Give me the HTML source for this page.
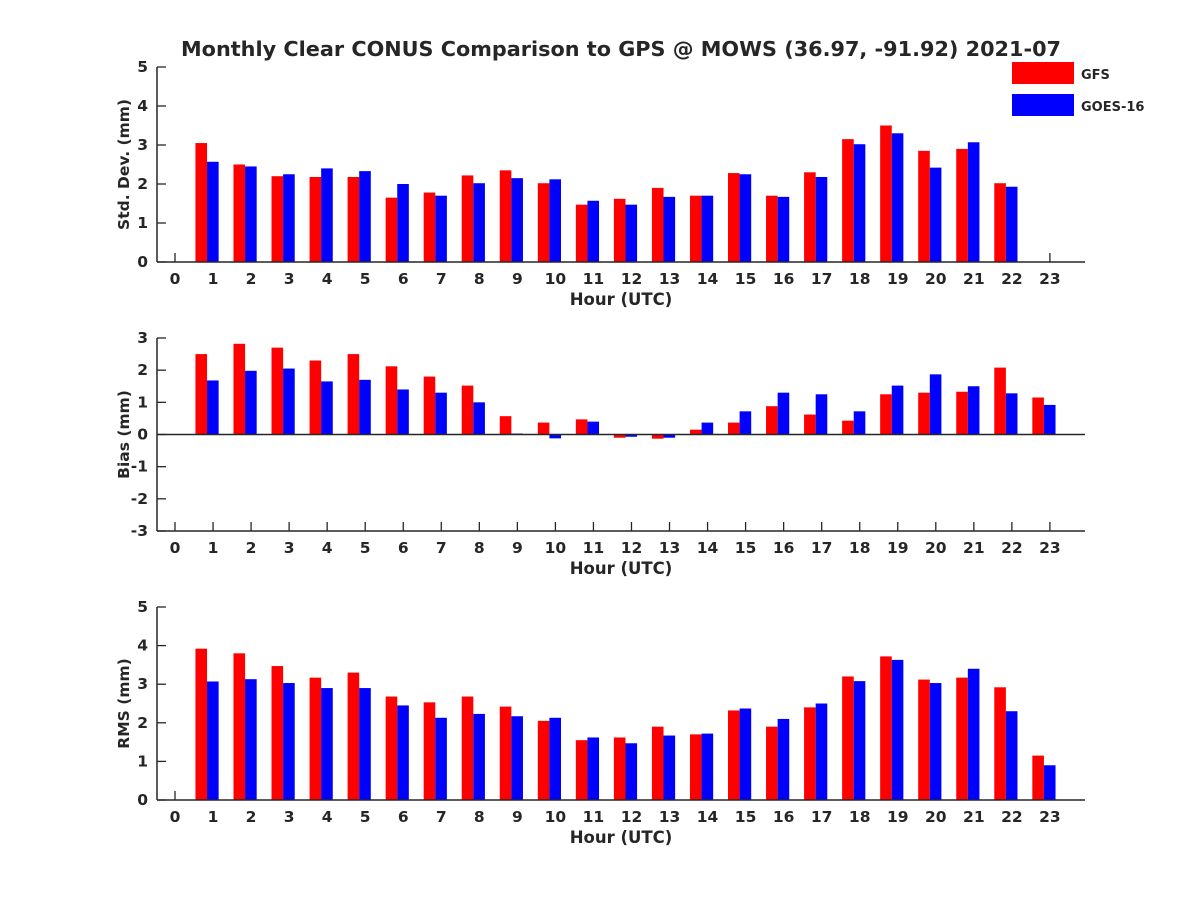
<!DOCTYPE html>
<html><head><meta charset="utf-8"><style>
body{margin:0;background:#fff}
svg text{font-family:"DejaVu Sans","Liberation Sans",sans-serif;font-weight:bold;fill:#262626}
</style></head><body>
<svg id="chart" width="1200" height="900" xmlns="http://www.w3.org/2000/svg">
<rect width="1200" height="900" fill="#fff"/>
<text x="621" y="56" text-anchor="middle" font-size="20" textLength="880" lengthAdjust="spacingAndGlyphs">Monthly Clear CONUS Comparison to GPS @ MOWS (36.97, -91.92) 2021-07</text>
<g>
<rect x="1012" y="62" width="62" height="22" fill="#ff0000"/>
<text x="1081" y="79" font-size="13">GFS</text>
<rect x="1012" y="94" width="62" height="22" fill="#0000ff"/>
<text x="1081" y="111" font-size="13">GOES-16</text>
</g>
</svg>
<script>
const hours=[...Array(24).keys()];
const stdGFS=[null,3.05,2.5,2.2,2.18,2.18,1.65,1.78,2.22,2.35,2.02,1.47,1.62,1.9,1.7,2.28,1.7,2.3,3.15,3.5,2.85,2.9,2.02,null];
const stdGOES=[null,2.57,2.45,2.25,2.4,2.33,2.0,1.7,2.02,2.15,2.12,1.57,1.47,1.67,1.7,2.25,1.67,2.18,3.02,3.3,2.42,3.07,1.93,null];
const biasGFS=[null,2.5,2.82,2.7,2.3,2.5,2.12,1.8,1.52,0.57,0.37,0.47,-0.1,-0.13,0.15,0.37,0.88,0.62,0.43,1.25,1.3,1.33,2.08,1.15];
const biasGOES=[null,1.68,1.98,2.05,1.65,1.7,1.4,1.3,1.0,0.03,-0.12,0.4,-0.07,-0.1,0.37,0.72,1.3,1.25,0.72,1.52,1.87,1.5,1.28,0.92];
const rmsGFS=[null,3.92,3.8,3.47,3.17,3.3,2.68,2.53,2.68,2.42,2.05,1.55,1.62,1.9,1.7,2.32,1.9,2.4,3.2,3.72,3.12,3.17,2.92,1.15];
const rmsGOES=[null,3.07,3.13,3.03,2.9,2.9,2.45,2.13,2.23,2.17,2.13,1.62,1.47,1.67,1.72,2.37,2.1,2.5,3.08,3.63,3.03,3.4,2.3,0.9];
const stdTicks=[0,1,2,3,4,5];
const biasTicks=[-3,-2,-1,0,1,2,3];
const rmsTicks=[0,1,2,3,4,5];
const NS='http://www.w3.org/2000/svg';
const svg=document.getElementById('chart');
function mk(tag,attrs,parent){const e=document.createElementNS(NS,tag);for(const k in attrs)e.setAttribute(k,attrs[k]);(parent||svg).appendChild(e);return e;}
const xL=157,xR=1085;
const xS=h=>175+h*38.04;
function panel(name,top,bottom,ymin,ymax,ticks,ylabel,g1,g2){
  const g=mk('g',{});
  
  
  const yS=v=>bottom-(v-ymin)/(ymax-ymin)*(bottom-top);
  const zero=yS(Math.max(0,ymin));
  const bw=11.6;
  const ax=mk('g',{stroke:'#262626','stroke-width':1.3,fill:'none'},g);
  
  
  hours.forEach(h=>{
    mk('line',{x1:xS(h),y1:bottom,x2:xS(h),y2:bottom-9},ax);
    const t=mk('text',{x:xS(h),y:bottom+22,'text-anchor':'middle','font-size':15.5},g);
    t.textContent=h;
    
    
  });
  ticks.forEach(v=>{
    mk('line',{x1:xL,y1:yS(v),x2:xL+9,y2:yS(v)},ax);
    const t=mk('text',{x:xL-9,y:yS(v)+5,'text-anchor':'end','font-size':15.5},g);
    t.textContent=v;
    
    
  });
  [[g1,'#ff0000',-6-bw,'gfs'],[g2,'#0000ff',-6,'goes']].forEach(([arr,col,off,s])=>{
    arr.forEach((v,h)=>{if(v===null)return;
      const y1=yS(v);
      const r=mk('rect',{x:xS(h)+off,y:Math.min(y1,zero),width:bw,height:Math.abs(zero-y1),fill:col},g);
      
      
    });
  });
  const ax2=mk('g',{stroke:'#262626','stroke-width':1.5,fill:'none'},g);
  
  
  mk('line',{x1:xL,y1:top,x2:xL,y2:bottom},ax2);
  mk('line',{x1:xL,y1:bottom,x2:xR,y2:bottom},ax2);
  if(ymin<0) mk('line',{x1:xL,y1:zero,x2:xR,y2:zero},ax2);
  const xt=mk('text',{x:621,y:bottom+43,'text-anchor':'middle','font-size':16.5},g);
  xt.textContent='Hour (UTC)';
  
  
  const cy=(top+bottom)/2;
  const yt=mk('text',{x:0,y:0,'text-anchor':'middle','font-size':15.5,transform:`translate(129,${cy}) rotate(-90)`},g);
  yt.textContent=ylabel;
  
  
}
panel('std',67,262,0,5,stdTicks,'Std. Dev. (mm)',stdGFS,stdGOES);
panel('bias',338,531,-3,3,biasTicks,'Bias (mm)',biasGFS,biasGOES);
panel('rms',607,800,0,5,rmsTicks,'RMS (mm)',rmsGFS,rmsGOES);
</script>
</body></html>
